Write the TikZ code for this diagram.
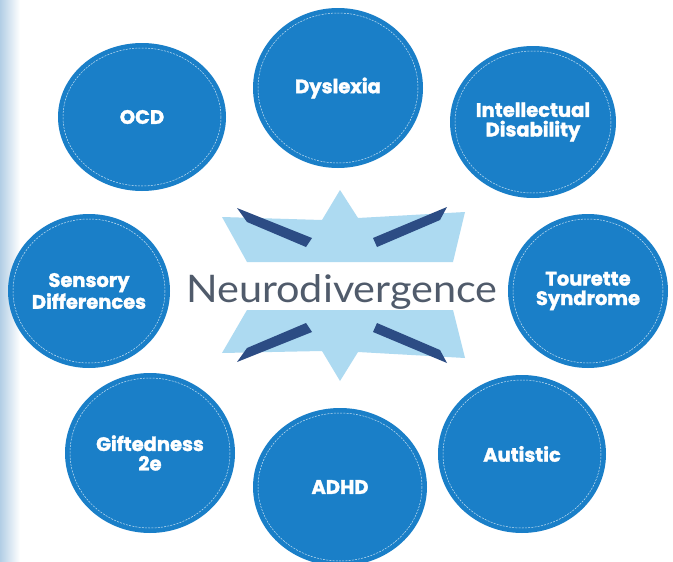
\documentclass[tikz,border=0pt]{standalone}
\usepackage{fontspec}
\setmainfont{Lato}
\newfontfamily\circfont{Poppins}[BoldFeatures={FakeBold=1.6}]
\newfontfamily\titlefont{Lato}[FakeStretch=1.09]
\usetikzlibrary{shapes.geometric}
\definecolor{circblue}{HTML}{1A7FC8}
\definecolor{starblue}{HTML}{ADDAF1}
\definecolor{barnavy}{HTML}{2C4C84}
\definecolor{titlegray}{HTML}{505B6B}
\definecolor{edgeblue}{HTML}{B2CEE5}
\tikzset{
  bubble/.style={ellipse, fill=circblue, inner sep=-6pt, text=white, align=center,
    font=\circfont\bfseries\fontsize{19.5}{19.5}\selectfont},
  stitch/.style={white, opacity=0.75, line width=0.5pt, dash pattern=on 2pt off 1.2pt},
  starpart/.style={fill=starblue},
  barpart/.style={fill=barnavy},
  titletext/.style={text=titlegray, font=\titlefont\fontsize{38}{40}\selectfont, inner sep=0pt}
}
\newcommand\bubble[6]{%
  \node[bubble, minimum width={2*#4 pt}, minimum height={2*#5 pt}] (#1) at (#2,#3) {#6};
  \draw[stitch] (#1.center) ellipse [x radius=#4-5, y radius=#5-5];
}
\begin{document}
\begin{tikzpicture}[x=1pt, y=-1pt]
  \fill[white] (0,0) rectangle (673,562);
  \useasboundingbox (0,0) rectangle (673,562);
  \shade[left color=edgeblue, right color=white] (0,0) rectangle (20,562);
  % star
  \fill[starpart] (247,262) -- (222,217) -- (322,220) -- (340,190) -- (358,218) -- (465,212) -- (453,262) -- cycle;
  \fill[starpart] (247,310) -- (222,353) -- (322,351) -- (340,381) -- (358,352) -- (465,358) -- (453,310) -- cycle;
  % bars
  \fill[barpart] (237,208) -- (312,238) -- (306,247) -- (247,222) -- cycle;
  \fill[barpart] (373,238) -- (447,207) -- (440,220) -- (377,247) -- cycle;
  \fill[barpart] (237,362) -- (312,332) -- (306,323) -- (247,348) -- cycle;
  \fill[barpart] (373,332) -- (447,363) -- (440,350) -- (377,323) -- cycle;
  % title
  \node[titletext, anchor=base] (title) at (342,302) {Neurodivergence};
  % bubbles
  \bubble{ocd}{142}{117}{84}{74}{OCD}
  \bubble{dys}{338}{88}{85}{80}{Dyslexia}
  \bubble{int}{533}{122}{83}{76}{Intellectual\\Disability}
  \bubble{sen}{89}{291}{81}{77}{Sensory\\Differences}
  \bubble{tou}{588}{291}{80}{77}{Tourette\\Syndrome}
  \bubble{gif}{150}{453}{85}{80}{Giftedness\\2e}
  \bubble{adhd}{340}{487}{87}{79}{ADHD}
  \bubble{aut}{522}{454}{84}{79}{Autistic}
\end{tikzpicture}
\end{document}
